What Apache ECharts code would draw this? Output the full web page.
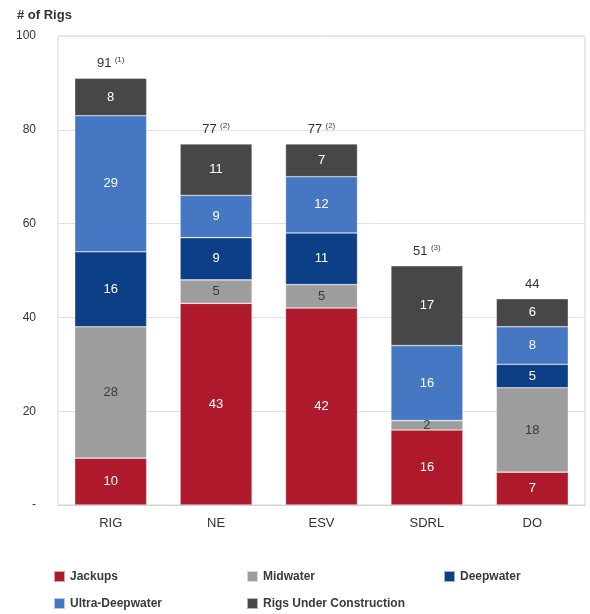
<!DOCTYPE html>
<html><head><meta charset="utf-8">
<script src="https://cdn.jsdelivr.net/npm/echarts@6/dist/echarts.min.js"></script>
<style>html,body{margin:0;padding:0;background:#fff}#c{width:590px;height:614px}</style>
</head><body><div id="c"></div>
<script>
var categories = ['RIG', 'NE', 'ESV', 'SDRL', 'DO'];
var jackups = [10, 43, 42, 16, 7];
var midwater = [28, 5, 5, 2, 18];
var deepwater = [16, 9, 11, 0, 5];
var ultraDeepwater = [29, 9, 12, 16, 8];
var underConstruction = [8, 11, 7, 17, 6];
var totals = [91, 77, 77, 51, 44];
var notes = ['(1)', '(2)', '(2)', '(3)', ''];
var yTicks = [0, 20, 40, 60, 80, 100];

var seriesDefs = [
  {name: 'Jackups', data: jackups, color: '#ae1a2c', lbl: '#ffffff'},
  {name: 'Midwater', data: midwater, color: '#9d9d9d', lbl: '#3a3a3a'},
  {name: 'Deepwater', data: deepwater, color: '#0d3f87', lbl: '#ffffff'},
  {name: 'Ultra-Deepwater', data: ultraDeepwater, color: '#4577c2', lbl: '#ffffff'},
  {name: 'Rigs Under Construction', data: underConstruction, color: '#474747', lbl: '#ffffff'}
];

var series = seriesDefs.map(function (s) {
  return {
    name: s.name, type: 'bar', stack: 'rigs', barWidth: 72,
    data: s.data,
    itemStyle: {color: s.color, borderColor: 'rgba(255,255,255,0.6)', borderWidth: 0.6},
    label: {
      show: true, position: 'inside', color: s.lbl,
      fontFamily: 'Liberation Sans', fontSize: 13,
      formatter: function (p) { return p.value ? String(p.value) : ''; }
    }
  };
});
series.push({
  name: 'Total', type: 'bar', stack: 'rigs', barWidth: 72,
  data: totals.map(function () { return 0; }),
  itemStyle: {color: 'transparent'},
  label: {
    show: true, position: 'top', distance: 8,
    formatter: function (p) {
      var i = p.dataIndex;
      return '{a|' + totals[i] + '}' + (notes[i] ? ' {s|' + notes[i] + '}' : '');
    },
    rich: {
      a: {fontFamily: 'Liberation Sans', fontSize: 13, color: '#333', verticalAlign: 'bottom'},
      s: {fontFamily: 'Liberation Sans', fontSize: 8, color: '#444', verticalAlign: 'top', padding: [0, 0, 6, 0]}
    }
  }
});

var legendPos = [
  {left: 53, top: 570}, {left: 246, top: 570}, {left: 443, top: 570},
  {left: 53, top: 597}, {left: 246, top: 597}
];
var legends = seriesDefs.map(function (s, i) {
  return {
    data: [s.name], left: legendPos[i].left, top: legendPos[i].top,
    padding: 0,
    icon: 'rect', itemWidth: 11, itemHeight: 11, itemGap: 10,
    selectedMode: false,
    textStyle: {fontFamily: 'Liberation Sans', fontSize: 12, fontWeight: 'bold', color: '#3a3a3a'}
  };
});

var chart = echarts.init(document.getElementById('c'), null, {renderer: 'canvas'});
chart.setOption({
  animation: false,
  backgroundColor: '#fff',
  title: {
    text: '# of Rigs', left: 12, top: 4,
    textStyle: {fontFamily: 'Liberation Sans', fontSize: 13, fontWeight: 'bold', color: '#333'}
  },
  legend: legends,
  grid: {left: 58, right: 5, top: 36, bottom: 109, show: true, borderColor: '#d6d6d6', borderWidth: 1},
  xAxis: {
    type: 'category', data: categories,
    axisLine: {lineStyle: {color: '#cfcfcf'}},
    axisTick: {show: false},
    axisLabel: {fontFamily: 'Liberation Sans', fontSize: 13, color: '#333', margin: 12}
  },
  yAxis: {
    type: 'value', min: yTicks[0], max: yTicks[yTicks.length - 1], interval: 20,
    axisLine: {show: false}, axisTick: {show: false},
    splitLine: {lineStyle: {color: '#e2e2e2'}},
    axisLabel: {
      fontFamily: 'Liberation Sans', fontSize: 12, color: '#333', margin: 22,
      formatter: function (v) { return v === 0 ? '-' : String(v); }
    }
  },
  series: series
});
</script></body></html>
